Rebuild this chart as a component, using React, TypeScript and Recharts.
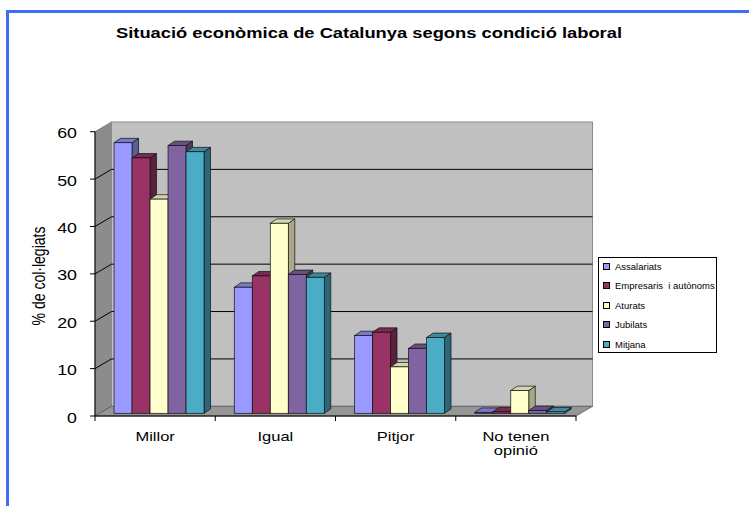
import { BarChart, Bar, XAxis, YAxis, CartesianGrid, Legend, ReferenceArea } from "recharts";

const categories = ["Millor", "Igual", "Pitjor", "No tenen\nopinió"];
const assalariats = [57.1, 26.6, 16.4, 0.2];
const empresaris = [53.9, 29.0, 17.1, 0.3];
const aturats = [45.2, 40.1, 9.8, 4.8];
const jubilats = [56.5, 29.3, 13.7, 0.6];
const mitjana = [55.2, 28.7, 16.0, 0.3];
const yTicks = [0, 10, 20, 30, 40, 50, 60];
const gridValues = [10, 20, 30, 40, 50];

const series = [
  { key: "assalariats", name: "Assalariats", values: assalariats, fill: "#9999FF", top: "#7A7ACC", side: "#5C5C99" },
  { key: "empresaris", name: "Empresaris  i autònoms", values: empresaris, fill: "#993366", top: "#7A2952", side: "#5C1F3D" },
  { key: "aturats", name: "Aturats", values: aturats, fill: "#FFFFCC", top: "#D6D6AA", side: "#A8A886" },
  { key: "jubilats", name: "Jubilats", values: jubilats, fill: "#8064A2", top: "#665082", side: "#4D3C61" },
  { key: "mitjana", name: "Mitjana", values: mitjana, fill: "#4BACC6", top: "#3C8A9E", side: "#2D6777" },
];

const data = categories.map((cat, i) => {
  const row: Record<string, string | number> = { cat };
  series.forEach((s) => (row[s.key] = s.values[i]));
  return row;
});

const FONT = "'Liberation Sans', Arial, sans-serif";
const STRETCH = 1.27;
// wall depth (oblique projection)
const DX = 16.5;
const DY = -9.7;
// bars sit a bit behind the front plane
const BSX = 4.6;
const BSY = -2.7;
// bar depth
const BDX = 6.5;
const BDY = -4.4;

function Walls(p: any) {
  const { x, y, width, height } = p;
  if (x == null) return null;
  const b = y + height;
  return (
    <g>
      <polygon
        points={`${x},${y} ${x + DX},${y + DY} ${x + DX},${b + DY} ${x},${b}`}
        fill="#8C8C8C"
        stroke="#6E6E6E"
        strokeWidth={0.8}
      />
      <rect x={x + DX} y={y + DY} width={width} height={height} fill="#C0C0C0" stroke="#8A8A8A" strokeWidth={1} />
      <polygon
        points={`${x},${b} ${x + width},${b} ${x + width + DX},${b + DY} ${x + DX},${b + DY}`}
        fill="#969696"
        stroke="#555"
        strokeWidth={0.8}
      />
    </g>
  );
}

function GridLine(p: any) {
  const { x1, y1, x2 } = p;
  return (
    <g key={p.key}>
      <line x1={x1 + DX} y1={y1 + DY} x2={x2 + DX} y2={y1 + DY} stroke="#000" strokeWidth={1} />
      <line x1={x1} y1={y1} x2={x1 + DX} y2={y1 + DY} stroke="#000" strokeWidth={1} />
    </g>
  );
}

function Bar3D(p: any) {
  const { x, y, width, height, fill, top, side } = p;
  if (x == null || height == null) return null;
  const fx = x + BSX;
  const fy = y + BSY;
  const r = fx + width;
  const b = fy + height;
  return (
    <g>
      <polygon
        points={`${r},${fy} ${r + BDX},${fy + BDY} ${r + BDX},${b + BDY} ${r},${b}`}
        fill={side}
        stroke="#111"
        strokeWidth={0.7}
      />
      <polygon
        points={`${fx},${fy} ${fx + BDX},${fy + BDY} ${r + BDX},${fy + BDY} ${r},${fy}`}
        fill={top}
        stroke="#111"
        strokeWidth={0.7}
      />
      <rect x={fx} y={fy} width={width} height={height} fill={fill} stroke="#111" strokeWidth={0.7} />
    </g>
  );
}

function YTick(p: any) {
  const { x, y, payload } = p;
  return (
    <text
      transform={`translate(${x},${y}) scale(${STRETCH},1)`}
      textAnchor="end"
      dy={6.6}
      fontSize={14}
      fontFamily={FONT}
      fill="#000"
    >
      {payload.value}
    </text>
  );
}

function XTick(p: any) {
  const { x, y, payload, index } = p;
  const band = (p.width ?? 481) / (p.visibleTicksCount ?? categories.length);
  const lines = String(payload.value).split("\n");
  return (
    <g>
      <line x1={x - band / 2} y1={y} x2={x - band / 2} y2={y + 5} stroke="#000" />
      {index === categories.length - 1 && (
        <line x1={x + band / 2} y1={y} x2={x + band / 2} y2={y + 5} stroke="#000" />
      )}
      <text
        transform={`translate(${x},${y}) scale(${STRETCH},1)`}
        textAnchor="middle"
        fontSize={13}
        fontFamily={FONT}
        fill="#000"
      >
        {lines.map((l, i) => (
          <tspan key={i} x={0} y={24.6 + i * 14.5}>
            {l}
          </tspan>
        ))}
      </text>
    </g>
  );
}

function LegendBox() {
  return (
    <div
      style={{
        position: "relative",
        width: 119,
        height: 96,
        boxSizing: "border-box",
        border: "1px solid #000",
        background: "#fff",
        fontFamily: FONT,
        fontSize: 9.5,
      }}
    >
      {series.map((s, i) => (
        <div
          key={s.key}
          style={{ position: "absolute", left: 4, top: 1 + i * 19.5, height: 14, display: "flex", alignItems: "center", whiteSpace: "pre" }}
        >
          <span
            style={{ display: "inline-block", width: 5, height: 5, border: "1px solid #000", background: s.fill, marginRight: 5 }}
          />
          <span>{s.name}</span>
        </div>
      ))}
    </div>
  );
}

export default function App() {
  return (
    <div
      style={{ position: "absolute", left: 0, top: 0, width: 749, height: 506, overflow: "hidden", background: "#fff" }}
    >
      <div
        style={{
          position: "absolute",
          left: 6,
          top: 10,
          width: 800,
          height: 600,
          borderTop: "3px solid #3F6EF3",
          borderLeft: "3px solid #3F6EF3",
        }}
      />
      <BarChart
        width={749}
        height={506}
        data={data}
        margin={{ top: 131.7, right: 173, bottom: 40, left: 0 }}
        barCategoryGap="12%"
        barGap={0}
      >
        <ReferenceArea xAxisId="cat" y1={0} y2={60} shape={(p: any) => <Walls {...p} />} zIndex={-200} ifOverflow="visible" />
        <CartesianGrid xAxisId="cat" vertical={false} horizontalValues={gridValues} horizontal={(p: any) => <GridLine {...p} />} />
        <XAxis
          xAxisId="cat"
          dataKey="cat"
          interval={0}
          height={50}
          axisLine={{ stroke: "#000" }}
          tickLine={false}
          tickSize={0}
          tickMargin={0}
          tick={(p: any) => <XTick {...p} />}
        />
        <YAxis
          domain={[0, 60]}
          ticks={yTicks}
          interval={0}
          width={95}
          axisLine={{ stroke: "#000" }}
          tickLine={{ stroke: "#000" }}
          tickSize={5}
          tickMargin={13}
          tick={(p: any) => <YTick {...p} />}
        />
        {series.map((s) => (
          <Bar
            key={s.key}
            xAxisId="cat"
            dataKey={s.key}
            name={s.name}
            fill={s.fill}
            isAnimationActive={false}
            shape={(p: any) => <Bar3D {...p} top={s.top} side={s.side} />}
          />
        ))}
        <Legend
          layout="vertical"
          align="center"
          verticalAlign="middle"
          wrapperStyle={{ left: 598, top: 257, width: 119, height: 96 }}
          content={() => <LegendBox />}
        />
      </BarChart>
      <svg width={749} height={506} style={{ position: "absolute", left: 0, top: 0, pointerEvents: "none" }}>
        <text
          x={116}
          y={38}
          fontSize={14}
          fontWeight="bold"
          fontFamily={FONT}
          textLength={506}
          lengthAdjust="spacingAndGlyphs"
          fill="#000"
        >
          Situació econòmica de Catalunya segons condició laboral
        </text>
        <text
          transform={`translate(39,276) scale(${STRETCH},1) rotate(-90)`}
          textAnchor="middle"
          dy="0.35em"
          fontSize={14}
          fontFamily={FONT}
          fill="#000"
        >
          % de col·legiats
        </text>
      </svg>
    </div>
  );
}
